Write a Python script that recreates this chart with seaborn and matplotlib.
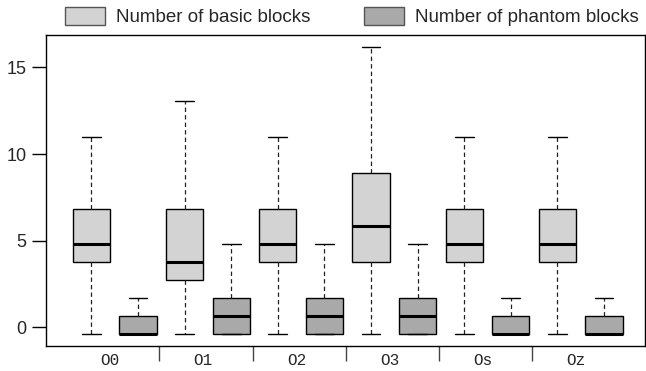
import numpy as np
import pandas as pd
import matplotlib
matplotlib.use("Agg")
import matplotlib.pyplot as plt
from matplotlib.patches import Patch
import seaborn as sns

# Optimisation levels on the x axis
levels = ["O0", "O1", "O2", "O3", "Os", "Oz"]
series = ["Number of basic blocks", "Number of phantom blocks"]
colors = ["#D3D3D3", "#A9A9A9"]

# five-number summaries: min, q1, median, q3, max
basic_blocks = {
    "O0": [-0.4, 3.75, 4.8, 6.84, 11.0],
    "O1": [-0.4, 2.73, 3.75, 6.84, 13.06],
    "O2": [-0.4, 3.75, 4.8, 6.84, 11.0],
    "O3": [-0.4, 3.75, 5.83, 8.92, 16.19],
    "Os": [-0.4, 3.75, 4.8, 6.84, 11.0],
    "Oz": [-0.4, 3.75, 4.8, 6.84, 11.0],
}
phantom_blocks = {
    "O0": [-0.4, -0.4, -0.4, 0.63, 1.67],
    "O1": [-0.4, -0.4, 0.63, 1.67, 4.79],
    "O2": [-0.4, -0.4, 0.63, 1.67, 4.79],
    "O3": [-0.4, -0.4, 0.63, 1.67, 4.79],
    "Os": [-0.4, -0.4, -0.4, 0.63, 1.67],
    "Oz": [-0.4, -0.4, -0.4, 0.63, 1.67],
}

y_ticks = [0, 5, 10, 15]

rows = []
for name, table in zip(series, [basic_blocks, phantom_blocks]):
    for lvl in levels:
        for v in table[lvl]:
            rows.append({"level": lvl, "series": name, "value": v})
df = pd.DataFrame(rows)

sns.set_theme(style="ticks")
plt.rcParams["font.family"] = ["Liberation Sans", "DejaVu Sans"]

fig = plt.figure(figsize=(6.46, 3.71), dpi=100)
ax = fig.add_axes([46 / 646, 25.3 / 371, 599 / 646, 310.7 / 371])

sns.boxplot(
    data=df, x="level", y="value", hue="series", order=levels,
    hue_order=series, palette=colors, whis=(0, 100), width=1.0, gap=0.2,
    linecolor="black", linewidth=1.0, dodge=True, legend=False, ax=ax,
    medianprops=dict(linewidth=2.2, color="black"),
    whiskerprops=dict(linestyle=(0, (3.5, 2.5)), linewidth=0.9, color="#222222"),
    capprops=dict(linewidth=1.0, color="black"),
    capwidths=0.2,
)

ax.set_xlim(-0.737, 5.69)
ax.set_ylim(-1.06, 16.87)
ax.set_xlabel("")
ax.set_ylabel("")

# labels under each group, tick marks between groups
ax.set_xticks(np.arange(len(levels)) - 0.05)
ax.set_xticklabels(levels, fontfamily="Liberation Mono", fontsize=11.5)
ax.tick_params(axis="x", which="major", length=0, pad=5)
ax.set_xticks(np.arange(len(levels) - 1) + 0.48, minor=True)
ax.tick_params(axis="x", which="minor", length=11, width=1, color="#444444")

ax.set_yticks(y_ticks)
ax.tick_params(axis="y", length=10, width=1, pad=4, labelsize=13, color="black")

for side in ["left", "right", "top", "bottom"]:
    ax.spines[side].set_visible(True)
    ax.spines[side].set_color("black")
    ax.spines[side].set_linewidth(1.0)

handles = [Patch(facecolor=c, edgecolor="#555555", linewidth=1.0) for c in colors]
fig.legend(
    handles, series, loc="center left", bbox_to_anchor=(65 / 646, 1 - 16.7 / 371),
    ncol=2, frameon=False, fontsize=13.5, handlelength=2.13, handleheight=1.07,
    handletextpad=0.59, columnspacing=2.88, borderpad=0, borderaxespad=0,
)

fig.savefig("out.png", dpi=100)
